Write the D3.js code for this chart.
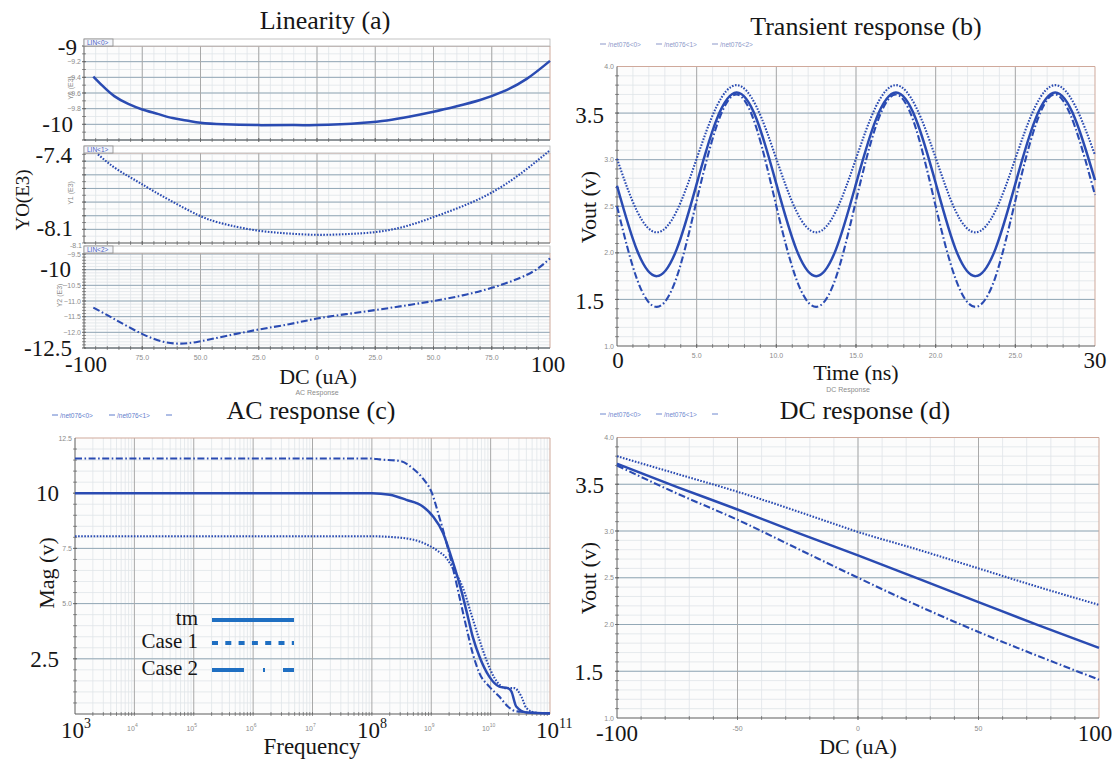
<!DOCTYPE html>
<html>
<head>
<meta charset="utf-8">
<script src="https://cdnjs.cloudflare.com/ajax/libs/d3/7.8.5/d3.min.js"></script>
<style>
body{margin:0;background:#fff;}
.big{font-family:"Liberation Serif","Times New Roman",serif;fill:#161616;}
.small{font-family:"Liberation Sans",Arial,sans-serif;font-size:7px;fill:#8c8c8c;}
.tiny{font-family:"Liberation Sans",Arial,sans-serif;font-size:6.5px;}
</style>
</head>
<body>
<svg id="chart"></svg>
<script>
// ---- data ----
var titles = ["Linearity (a)", "Transient response (b)", "AC response (c)", "DC response (d)"];

// (a) linearity, three stacked sub plots
var dcA1 = [-96,-92,-87,-81,-75,-68,-62,-56,-50,-40,-25,-10,0,10,20,30,40,50,60,70,80,90,100];
var linA1 = [-9.39,-9.51,-9.64,-9.74,-9.81,-9.87,-9.92,-9.95,-9.98,-10.0,-10.01,-10.01,-10.01,-10.0,-9.98,-9.95,-9.9,-9.84,-9.77,-9.69,-9.58,-9.42,-9.19];
var dcA2 = [-94,-87.5,-81,-75,-67,-54,-46,-37.5,-25,-12.5,0,12.5,25,37.5,50,62.5,75,87.5,100];
var linA2 = [-7.45,-7.54,-7.61,-7.67,-7.75,-7.87,-7.93,-7.97,-8.01,-8.03,-8.04,-8.035,-8.02,-7.98,-7.91,-7.83,-7.73,-7.59,-7.42];
var dcA3 = [-96,-90,-85,-79,-73,-66,-59,-51,-40,-25.7,-12,0,12.5,25,37.5,50,62.5,75,87.5,95,100];
var linA3 = [-11.21,-11.45,-11.66,-11.9,-12.12,-12.3,-12.36,-12.3,-12.13,-11.92,-11.74,-11.56,-11.42,-11.29,-11.15,-11.0,-10.82,-10.58,-10.25,-9.95,-9.64];

// (b) transient
var timeB = [0,1.25,2.5,3.75,5,6.25,7.5,8.75,10,11.25,12.5,13.75,15,16.25,17.5,18.75,20,21.25,22.5,23.75,25,26.25,27.5,28.75,30];
var tranTm = [2.72,2.03,1.75,2.04,2.74,3.43,3.72,3.44,2.74,2.04,1.75,2.04,2.74,3.43,3.72,3.44,2.75,2.04,1.75,2.04,2.74,3.43,3.72,3.44,2.78];
var tranC1 = [3.01,2.45,2.22,2.45,3.01,3.57,3.80,3.57,3.01,2.45,2.22,2.45,3.01,3.57,3.80,3.57,3.02,2.45,2.22,2.45,3.01,3.57,3.80,3.58,3.05];
var tranC2 = [2.50,1.72,1.42,1.74,2.56,3.36,3.70,3.34,2.50,1.72,1.42,1.74,2.56,3.36,3.70,3.34,2.50,1.72,1.42,1.74,2.56,3.36,3.70,3.35,2.62];

// (c) AC response
var freqTm = [1e3,1e8,2e8,3.8e8,7.2e8,1.07e9,1.58e9,2.19e9,3.0e9,3.9e9,5.0e9,6.5e9,9.5e9,1.4e10,1.95e10,2.24e10,2.7e10,4e10,1e11];
var magTm  = [10,10,9.93,9.70,9.40,8.95,8.2,7.08,5.88,4.69,3.49,2.59,1.69,1.24,1.17,1.02,0.34,0.07,0.03];
var freqC1 = [1e3,1e8,2e8,4.9e8,8.3e8,1.3e9,1.78e9,2.45e9,3.4e9,4.7e9,6.5e9,8.5e9,1.17e10,1.8e10,2.5e10,3.3e10,4e10,5.9e10,1e11];
var magC1  = [8.05,8.05,8.02,7.9,7.68,7.38,7.08,6.48,5.73,4.54,3.34,2.44,1.62,1.17,1.17,0.79,0.27,0.05,0.03];
var freqC2 = [1e3,1e8,1.35e8,2.95e8,4.9e8,7.2e8,1e9,1.38e9,1.9e9,2.45e9,3.0e9,3.9e9,5.0e9,6.5e9,9.5e9,1.4e10,1.95e10,2.7e10,1e11];
var magC2  = [11.57,11.57,11.53,11.46,11.12,10.67,10.08,8.88,7.53,6.33,5.28,3.93,2.74,1.84,1.24,0.79,0.34,0.12,0.03];

// (d) DC response
var dcD = [-100,-75,-50,-25,0,25,50,75,100];
var dcTm = [3.72,3.47,3.23,2.98,2.74,2.49,2.24,1.99,1.75];
var dcC1 = [3.80,3.61,3.42,3.21,2.99,2.80,2.60,2.40,2.21];
var dcC2 = [3.70,3.40,3.12,2.81,2.50,2.20,1.92,1.66,1.41];

var legendNames = ["tm", "Case 1", "Case 2"];
var netNames = ["/net076<0>", "/net076<1>", "/net076<2>"];

// ---- styles ----
var lineColor = "#2a4bb2";
var styles = [
    {dash: null, width: 2.5},
    {dash: "1.6,1.5", width: 2.1},
    {dash: "7,2.5,1.6,2.5", width: 2.1}
];

var svg = d3.select("#chart").attr("width", 1115).attr("height", 760);

function range(a, b, step){
    var out = [];
    for (var v = a; v <= b + step/1000; v += step){
        out.push(Math.round(v*1000)/1000);
    }
    return out;
}

function logMinor(e0, e1){
    var out = [];
    for (var e = e0; e < e1; e++){
        for (var k = 2; k < 10; k++){ out.push(k*Math.pow(10, e)); }
    }
    return out;
}

function drawGrid(box, x, y, xMinor, xMajor, yMinor, yMajor){
    var g = svg.append('g');
    g.append('rect')
        .attr('x', box.l).attr('y', box.t)
        .attr('width', box.r - box.l).attr('height', box.b - box.t)
        .attr('fill', '#fcfcfc');
    g.selectAll(null).data(yMinor).enter().append('line')
        .attr('x1', box.l).attr('x2', box.r)
        .attr('y1', function(d){return y(d);}).attr('y2', function(d){return y(d);})
        .attr('stroke', '#dfe4e9').attr('stroke-width', 0.8);
    g.selectAll(null).data(xMinor).enter().append('line')
        .attr('y1', box.t).attr('y2', box.b)
        .attr('x1', function(d){return x(d);}).attr('x2', function(d){return x(d);})
        .attr('stroke', '#dfe4e9').attr('stroke-width', 0.8);
    g.selectAll(null).data(yMajor).enter().append('line')
        .attr('x1', box.l).attr('x2', box.r)
        .attr('y1', function(d){return y(d);}).attr('y2', function(d){return y(d);})
        .attr('stroke', '#93a8b6').attr('stroke-width', 1);
    g.selectAll(null).data(xMajor).enter().append('line')
        .attr('y1', box.t).attr('y2', box.b)
        .attr('x1', function(d){return x(d);}).attr('x2', function(d){return x(d);})
        .attr('stroke', '#a9a9a9').attr('stroke-width', 1);
    // ticks on left and bottom
    g.selectAll(null).data(yMinor.concat(yMajor)).enter().append('line')
        .attr('x1', box.l - 2).attr('x2', box.l + 2)
        .attr('y1', function(d){return y(d);}).attr('y2', function(d){return y(d);})
        .attr('stroke', '#666').attr('stroke-width', 0.7);
    g.selectAll(null).data(xMinor.concat(xMajor)).enter().append('line')
        .attr('y1', box.b - 2).attr('y2', box.b + 2)
        .attr('x1', function(d){return x(d);}).attr('x2', function(d){return x(d);})
        .attr('stroke', '#666').attr('stroke-width', 0.7);
    // border
    g.append('path')
        .attr('d', 'M' + box.l + ',' + box.t + 'H' + box.r + 'V' + box.b)
        .attr('fill', 'none').attr('stroke', '#cfa99b').attr('stroke-width', 1);
    g.append('path')
        .attr('d', 'M' + box.l + ',' + box.t + 'V' + box.b + 'H' + box.r)
        .attr('fill', 'none').attr('stroke', '#5c5c5c').attr('stroke-width', 1);
    return g;
}

function drawCurve(xs, ys, x, y, style, curve){
    var pts = xs.map(function(d, i){ return [d, ys[i]]; });
    var line = d3.line()
        .x(function(d){return x(d[0]);})
        .y(function(d){return y(d[1]);})
        .curve(curve || d3.curveNatural);
    svg.append('path')
        .datum(pts)
        .attr('d', line)
        .attr('fill', 'none')
        .attr('stroke', lineColor)
        .attr('stroke-width', style.width)
        .attr('stroke-dasharray', style.dash);
}

function bigText(txt, x, y, size, anchor){
    return svg.append('text')
        .attr('class', 'big')
        .attr('x', x).attr('y', y)
        .attr('font-size', size)
        .attr('text-anchor', anchor || 'middle')
        .attr('dominant-baseline', 'central')
        .text(txt);
}

function smallText(txt, x, y, anchor){
    return svg.append('text')
        .attr('class', 'small')
        .attr('x', x).attr('y', y)
        .attr('text-anchor', anchor || 'end')
        .attr('dominant-baseline', 'central')
        .text(txt);
}

function rotText(txt, x, y, size){
    svg.append('text').attr('class', 'big').attr('font-size', size)
        .attr('text-anchor', 'middle').attr('dominant-baseline', 'central')
        .attr('transform', 'translate(' + x + ',' + y + ') rotate(-90)')
        .text(txt);
}

function netLegend(x0, y0, step, names, color){
    names.forEach(function(n, i){
        svg.append('line')
            .attr('x1', x0 + i*step).attr('x2', x0 + i*step + 6)
            .attr('y1', y0).attr('y2', y0)
            .attr('stroke', color).attr('stroke-width', 1);
        svg.append('text')
            .attr('class', 'tiny')
            .attr('x', x0 + i*step + 8).attr('y', y0)
            .attr('dominant-baseline', 'central')
            .attr('fill', color)
            .text(n);
    });
}

var numSize = 23;   // big overlaid tick numbers
var labSize = 22;   // big axis titles

// ================= (a) Linearity =================
var xa = d3.scaleLinear().domain([-100, 100]).range([84, 550]);
var subs = [
    {y: d3.scaleLinear().domain([-10.2, -9.0]).range([140, 46]), box: {l: 84, r: 550, t: 46, b: 140},
     maj: range(-10.2, -9.0, 0.2), min: range(-10.2, -9.0, 0.1), xs: dcA1, ys: linA1, st: styles[0],
     ticks: [-9.2, -9.4, -9.6, -9.8], name: 'Y0 (E3)', nx: 73},
    {y: d3.scaleLinear().domain([-8.1, -7.44]).range([243, 153]), box: {l: 84, r: 550, t: 153, b: 243},
     maj: range(-8.0, -7.5, 0.1), min: range(-8.1, -7.45, 0.05), xs: dcA2, ys: linA2, st: styles[1],
     ticks: [], name: 'Y1 (E3)', nx: 73},
    {y: d3.scaleLinear().domain([-12.5, -9.5]).range([348, 254]), box: {l: 84, r: 550, t: 253, b: 348},
     maj: range(-12.5, -9.5, 0.5), min: range(-12.5, -9.5, 0.1), xs: dcA3, ys: linA3, st: styles[2],
     ticks: [-9.5, -10.5, -11.0, -11.5, -12.0], name: 'Y2 (E3)', nx: 62}
];

subs.forEach(function(s, i){
    drawGrid(s.box, xa, s.y, range(-95, 95, 5), range(-75, 75, 25), s.min, s.maj);
    // header band with the LIN<k> tab
    svg.append('rect')
        .attr('x', s.box.l).attr('y', s.box.t - 7)
        .attr('width', s.box.r - s.box.l).attr('height', 7)
        .attr('fill', '#fff').attr('stroke', '#b5b5b5').attr('stroke-width', 0.8);
    svg.append('rect')
        .attr('x', s.box.l).attr('y', s.box.t - 7)
        .attr('width', 29).attr('height', 7)
        .attr('fill', '#f4f6fb').attr('stroke', '#8a8a8a').attr('stroke-width', 0.8);
    svg.append('text')
        .attr('class', 'tiny')
        .attr('x', s.box.l + 3).attr('y', s.box.t - 3.3)
        .attr('dominant-baseline', 'central')
        .attr('fill', '#4b5fc4')
        .text('LIN<' + i + '>');
    s.ticks.forEach(function(t){ smallText(d3.format('.1f')(t), s.box.l - 3, s.y(t)); });
    svg.append('text')
        .attr('class', 'small')
        .attr('font-size', 6)
        .attr('transform', 'translate(' + s.nx + ',' + ((s.box.t + s.box.b)/2 - 5) + ') rotate(-90)')
        .attr('text-anchor', 'middle')
        .text(s.name);
    drawCurve(s.xs, s.ys, xa, s.y, s.st);
});
smallText('-8.1', 82, 245);

// small x labels under the lowest sub plot
var xaTicks = [-75, -50, -25, 0, 25, 50, 75];
var xaLabels = ['75.0', '50.0', '25.0', '0', '25.0', '50.0', '75.0'];
xaTicks.forEach(function(t, i){ smallText(xaLabels[i], xa(t), 357, 'middle'); });

// big overlaid labels
bigText('-9', 77, subs[0].y(-9.0) + 1, numSize, 'end');
bigText('-10', 73, subs[0].y(-10), numSize, 'end');
bigText('-7.4', 72, subs[1].y(-7.4) + 8, numSize, 'end');
bigText('-8.1', 73, subs[1].y(-8.1) - 15, numSize, 'end');
bigText('-10', 71, subs[2].y(-10), numSize, 'end');
bigText('-12.5', 72, subs[2].y(-12.5), numSize, 'end');
bigText('-100', xa(-100) + 2, 364, numSize);
bigText('100', xa(100) - 2, 364, numSize);
bigText('DC (uA)', xa(0) + 1, 376, labSize);
rotText('YO(E3)', 22, 200, 19);
smallText('AC Response', xa(0), 392, 'middle').attr('font-size', 6);
bigText(titles[0], 325, 20, 26);

// ================= (b) Transient =================
var xb = d3.scaleLinear().domain([0, 30]).range([617, 1095]);
var yb = d3.scaleLinear().domain([1, 4]).range([346, 66.5]);
var boxB = {l: 617, r: 1095, t: 66.5, b: 346};
drawGrid(boxB, xb, yb, range(1, 29, 1), range(5, 25, 5), range(1.1, 3.9, 0.1), range(1.5, 3.5, 0.5));
drawCurve(timeB, tranC1, xb, yb, styles[1]);
drawCurve(timeB, tranTm, xb, yb, styles[0]);
drawCurve(timeB, tranC2, xb, yb, styles[2]);
[4.0, 3.0, 2.5, 2.0, 1.0].forEach(function(t){ smallText(d3.format('.1f')(t), boxB.l - 3, yb(t)); });
[5, 10, 15, 20, 25].forEach(function(t){ smallText(d3.format('.1f')(t), xb(t), 355, 'middle'); });
bigText('3.5', 604, yb(3.5) + 2, numSize, 'end');
bigText('1.5', 604, yb(1.5) + 2, numSize, 'end');
bigText('0', xb(0) + 1, 360, numSize);
bigText('30', xb(30), 360, numSize);
bigText('Time (ns)', xb(15), 372, labSize);
rotText('Vout (v)', 588, 207, labSize);
smallText('DC Response', xb(15) - 8, 389, 'middle').attr('font-size', 6);
netLegend(600, 44, 56, netNames, '#8b97c9');
bigText(titles[1], 866, 26, 26);

// ================= (c) AC response =================
var xc = d3.scaleLog().domain([1e3, 1e11]).range([75, 550]);
var yc = d3.scaleLinear().domain([0, 12.5]).range([714, 438]);
var boxC = {l: 75, r: 550, t: 438, b: 714};
var decades = [1e4, 1e5, 1e6, 1e7, 1e8, 1e9, 1e10];
drawGrid(boxC, xc, yc, logMinor(3, 11), decades, range(0.5, 12, 0.5), range(2.5, 10, 2.5));
drawCurve(freqC2, magC2, xc, yc, styles[2], d3.curveMonotoneX);
drawCurve(freqTm, magTm, xc, yc, styles[0], d3.curveMonotoneX);
drawCurve(freqC1, magC1, xc, yc, styles[1], d3.curveMonotoneX);

[12.5, 7.5, 5.0].forEach(function(t){ smallText(d3.format('.1f')(t), boxC.l - 3, yc(t)); });
var supers = {1e4: '4', 1e5: '5', 1e6: '6', 1e7: '7', 1e9: '9', 1e10: '10'};
Object.keys(supers).forEach(function(k){
    var t = smallText('10', xc(+k) - 2, 728, 'middle').attr('font-size', 6.5);
    t.append('tspan').attr('dy', -3).attr('font-size', 5).text(supers[k]);
});
function bigPow(exp, x){
    var t = svg.append('text').attr('class', 'big')
        .attr('x', x).attr('y', 738).attr('font-size', numSize).attr('text-anchor', 'start')
        .text('10');
    t.append('tspan').attr('dy', -10).attr('font-size', 14).text(exp);
}
bigPow('3', xc(1e3) - 14);
bigPow('8', xc(1e8) - 15);
bigPow('11', xc(1e11) - 14);
bigText('10', 59, yc(10), numSize, 'end');
bigText('2.5', 59, yc(2.5) + 1, numSize, 'end');
bigText('Frequency', 312, 746, labSize + 1);
rotText('Mag (v)', 46, 573, labSize);
netLegend(52, 415, 57, [netNames[0], netNames[1], ''], '#5f7dcc');
bigText(titles[2], 311, 410, 26);

// big legend
var legColor = '#1f6fc2';
var legDash = [null, '6,7.3', '32,19,2,18'];
var legY = [620, 643, 670];
legendNames.forEach(function(n, i){
    bigText(n, 198, legY[i] - 2, 21, 'end');
    svg.append('line')
        .attr('x1', 212).attr('x2', 294)
        .attr('y1', legY[i]).attr('y2', legY[i])
        .attr('stroke', legColor).attr('stroke-width', 4)
        .attr('stroke-dasharray', legDash[i]);
});

// ================= (d) DC response =================
var xd = d3.scaleLinear().domain([-100, 100]).range([617, 1099]);
var yd = d3.scaleLinear().domain([1, 4]).range([718, 437.5]);
var boxD = {l: 617, r: 1099, t: 437.5, b: 718};
drawGrid(boxD, xd, yd, range(-90, 90, 10), range(-50, 50, 50), range(1.1, 3.9, 0.1), range(1.5, 3.5, 0.5));
drawCurve(dcD, dcC1, xd, yd, styles[1], d3.curveMonotoneX);
drawCurve(dcD, dcTm, xd, yd, styles[0], d3.curveMonotoneX);
drawCurve(dcD, dcC2, xd, yd, styles[2], d3.curveMonotoneX);
[4.0, 3.0, 2.5, 2.0, 1.0].forEach(function(t){ smallText(d3.format('.1f')(t), boxD.l - 3, yd(t)); });
[-50, 0, 50].forEach(function(t){ smallText(String(t), xd(t), 728, 'middle'); });
bigText('3.5', 604, yd(3.5) + 1, numSize, 'end');
bigText('1.5', 603, yd(1.5) + 1, numSize, 'end');
bigText('-100', xd(-100), 733, numSize);
bigText('100', xd(100) - 4, 733, numSize);
bigText('DC (uA)', xd(0), 746, labSize);
rotText('Vout (v)', 588, 578, labSize);
netLegend(600, 414, 56, [netNames[0], netNames[1], ''], '#6f88cf');
bigText(titles[3], 865, 410, 26);
</script>
</body>
</html>
